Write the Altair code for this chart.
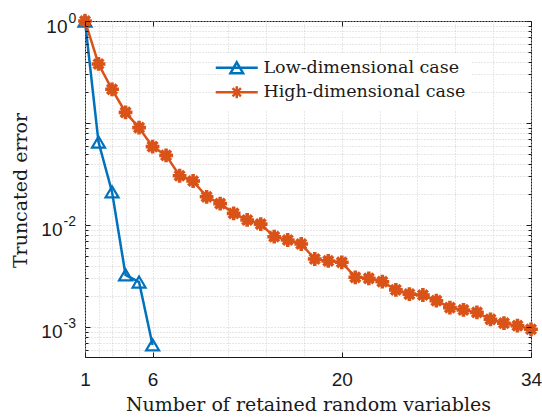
import altair as alt
import pandas as pd

LOW = "Low-dimensional case"
HIGH = "High-dimensional case"

x_low = [1, 2, 3, 4, 5, 6]
y_low = [1.0, 0.065, 0.0211, 0.00324, 0.00276, 0.000667]

x_high = list(range(1, 35))
y_high = [1.0, 0.379, 0.214, 0.127, 0.090, 0.0586, 0.0482, 0.0304, 0.027, 0.0189,
          0.0162, 0.0130, 0.0112, 0.0102, 0.00768, 0.00713, 0.00651, 0.00464, 0.00444, 0.00431,
          0.00307, 0.00300, 0.00278, 0.00231, 0.0021, 0.00206, 0.00181, 0.00155, 0.00147, 0.00139,
          0.00119, 0.00109, 0.00103, 0.00095]

x_ticks = [1, 6, 20, 34]
x_grid = [1, 2, 3, 4, 5, 6, 8.8, 11.6, 14.4, 17.2, 20, 22.8, 25.6, 28.4, 31.2, 34]
y_major = [1, 0.1, 0.01, 0.001]
y_labeled = [1, 0.01, 0.001]
y_minor = [m * 10.0 ** k for k in (-4, -3, -2, -1) for m in range(2, 10)]
y_minor = [v for v in y_minor if v >= 5.1e-4]
y_grid = y_major + y_minor

BLUE = "#0072BD"
ORANGE = "#D95319"
INK = "#1a1a1a"
GRID = "#cfcfcf"

df = pd.DataFrame({
    "x": x_low + x_high,
    "y": y_low + y_high,
    "series": [LOW] * len(x_low) + [HIGH] * len(x_high),
})

XS = alt.Scale(domain=[1, 34], nice=False, zero=False)
YS = alt.Scale(type="log", domain=[5.08e-4, 1], nice=False)

TRI = "M0,-0.85L1,0.85L-1,0.85Z"
AST = "M-1,0H1M0,-1V1M-0.7,-0.7L0.7,0.7M-0.7,0.7L0.7,-0.7"
TRI_LEG = "M-3.5,0H3.5M0,-0.9L1.05,0.9L-1.05,0.9Z"
AST_LEG = "M-3.5,0H3.5M0,-1V1M-0.7,-0.7L0.7,0.7M-0.7,0.7L0.7,-0.7"


def xe(axis):
    return alt.X("x:Q", scale=XS, axis=axis)


def ye(axis):
    return alt.Y("y:Q", scale=YS, axis=axis)


def tick_axis(orient, values, size):
    return alt.Axis(orient=orient, values=values, ticks=True,
                    tickSize=alt.ExprRef(expr=str(-size)), tickColor=INK, tickWidth=1,
                    labels=False, domain=False, grid=False, title=None, zindex=1)


grid_x = alt.Axis(orient="bottom", values=x_grid, grid=True, gridColor=GRID, gridDash=[1, 2],
                  gridWidth=1, ticks=False, labels=False, domain=False, title=None, zindex=0)
grid_y = alt.Axis(orient="left", values=y_grid, grid=True, gridColor=GRID, gridDash=[1, 2],
                  gridWidth=1, ticks=False, labels=False, domain=False, title=None, zindex=0)

x_lab = alt.Axis(orient="bottom", values=x_ticks, ticks=False, domain=False, grid=False,
                 labelFont="Liberation Sans", labelFontSize=19, labelColor=INK, labelPadding=13,
                 labelFlush=False, labelOverlap=False,
                 title="Number of retained random variables", titleFont="DejaVu Serif",
                 titleFontSize=19, titleFontWeight="normal", titleColor=INK,
                 titleY=53, titleBaseline="alphabetic", zindex=1)

y_lab = alt.Axis(orient="left", values=y_labeled, ticks=False, domain=False, grid=False,
                 labelExpr="'10'", labelFont="Liberation Sans", labelFontSize=19, labelColor=INK,
                 labelPadding=alt.ExprRef(expr="datum.value > 0.5 ? 18 : 23"), labelOffset=5,
                 labelOverlap=False,
                 title="Truncated error", titleFont="DejaVu Serif", titleFontSize=19,
                 titleFontWeight="normal", titleColor=INK, titleX=-65, titleY=169,
                 titleAlign="center", titleBaseline="middle", titleAngle=270, zindex=1)

y_exp = alt.Axis(orient="left", values=y_labeled, ticks=False, domain=False, grid=False,
                 labelExpr="datum.value > 0.5 ? '0' : (datum.value > 0.005 ? '-2' : '-3')",
                 labelFont="Liberation Sans", labelFontSize=14, labelColor=INK, labelAlign="left",
                 labelPadding=alt.ExprRef(expr="datum.value > 0.5 ? 17 : 22"), labelOffset=-3,
                 labelOverlap=False, title=None, zindex=1)

base = alt.Chart(df)
empty = alt.Chart(df).transform_filter("false")

low_line = base.transform_filter(alt.datum.series == LOW).mark_line(
    color=BLUE, strokeWidth=2.5).encode(x=xe(grid_x), y=ye(grid_y))

low_pts = base.transform_filter(alt.datum.series == LOW).mark_point(
    shape=TRI, size=169, filled=False, strokeWidth=2.2, color=BLUE, opacity=1
).encode(x=xe(x_lab), y=ye(y_lab))

high_line = base.transform_filter(alt.datum.series == HIGH).mark_line(
    color=ORANGE, strokeWidth=2.5).encode(x=xe(tick_axis("bottom", x_ticks, 5)), y=ye(y_exp))

high_pts = base.transform_filter(alt.datum.series == HIGH).mark_point(
    shape=AST, size=190, filled=False, strokeWidth=3.6, color=ORANGE, opacity=1
).encode(x=xe(tick_axis("top", x_ticks, 5)), y=ye(tick_axis("left", y_major, 5)))

leg = alt.Legend(title=None, orient="none", legendX=137, legendY=32,
                 padding=6, fillColor="white", symbolSize=144,
                 symbolStrokeWidth=2.5, labelOffset=18, labelLimit=0,
                 labelFont="DejaVu Serif", labelFontSize=17.5,
                 labelColor=INK, rowPadding=1.5)

legend_layer = empty.mark_point(filled=False, strokeWidth=2.5, size=144, opacity=1).encode(
    x=xe(None),
    y=ye(tick_axis("left", y_minor, 3)),
    color=alt.Color("series:N", scale=alt.Scale(domain=[LOW, HIGH], range=[BLUE, ORANGE]),
                    legend=leg),
    shape=alt.Shape("series:N", scale=alt.Scale(domain=[LOW, HIGH], range=[TRI_LEG, AST_LEG]),
                    legend=leg),
)

r_major = empty.mark_point(opacity=0).encode(x=xe(None), y=ye(tick_axis("right", y_major, 5)))
r_minor = empty.mark_point(opacity=0).encode(x=xe(None), y=ye(tick_axis("right", y_minor, 3)))

chart = alt.layer(
    low_line, low_pts, high_line, high_pts, legend_layer, r_major, r_minor
).resolve_axis(x="independent", y="independent").properties(
    width=446, height=336,
    padding={"left": 85, "top": 21, "right": 11, "bottom": 60},
    autosize=alt.AutoSizeParams(type="none"),
    background="white",
).configure_view(stroke=INK, strokeWidth=1)

chart.save("out.html", embed_options={"renderer": "svg", "actions": False})
